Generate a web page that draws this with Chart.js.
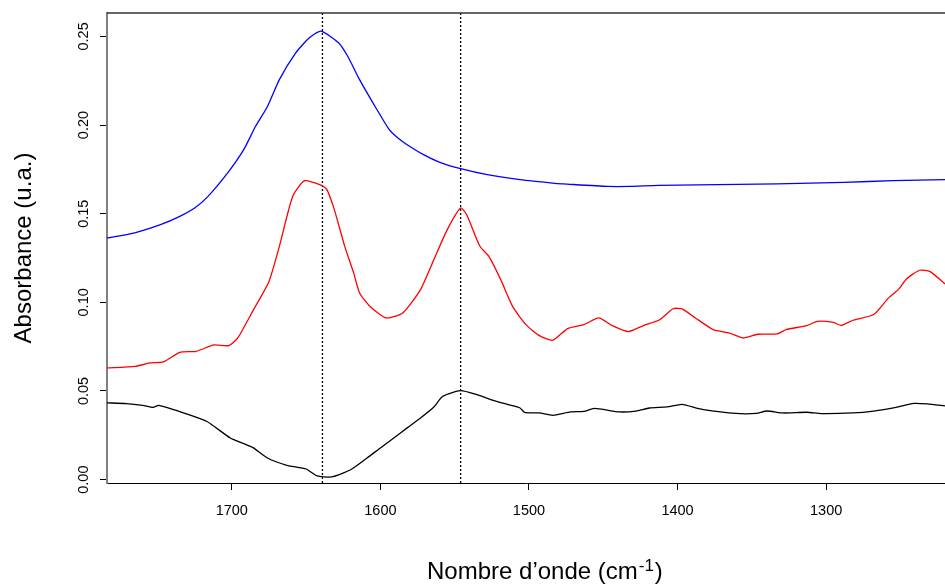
<!DOCTYPE html>
<html>
<head>
<meta charset="utf-8">
<script src="https://cdn.jsdelivr.net/npm/chart.js@4.4.1/dist/chart.umd.min.js"></script>
<style>
  html, body { margin: 0; padding: 0; background: #fff; }
  canvas { display: block; }
</style>
</head>
<body>
<canvas id="myChart" width="945" height="585"></canvas>
<script>
// spectra (wavenumber in cm-1, absorbance)
const blueWn = [1784, 1766, 1748, 1735, 1725, 1716, 1702, 1692, 1684, 1676, 1668, 1657, 1648, 1640, 1628, 1622, 1614, 1605, 1594, 1588, 1582, 1571, 1560, 1546, 1528, 1506, 1481, 1477, 1447, 1432, 1413, 1333, 1288, 1255, 1220];
const blueAbs = [0.1363, 0.1391, 0.1438, 0.1485, 0.1532, 0.1598, 0.1739, 0.1861, 0.1993, 0.2105, 0.2256, 0.2407, 0.2491, 0.2530, 0.2463, 0.2388, 0.2256, 0.2125, 0.1974, 0.1925, 0.1889, 0.1833, 0.1790, 0.1754, 0.1720, 0.1692, 0.1670, 0.1668, 0.1654, 0.1654, 0.1660, 0.1668, 0.1677, 0.1686, 0.1692];

const redWn = [1784, 1765, 1755, 1746, 1735, 1724, 1712, 1702, 1696, 1686, 1675, 1668, 1659, 1651, 1640, 1636, 1631, 1624, 1618, 1614, 1607, 1596, 1585, 1573, 1564, 1555, 1546, 1542, 1533, 1527, 1519, 1511, 1502, 1493, 1484, 1474, 1463, 1453, 1444, 1433, 1423, 1412, 1403, 1397, 1388, 1376, 1365, 1356, 1346, 1333, 1327, 1313, 1306, 1295, 1290, 1282, 1268, 1258, 1251, 1246, 1237, 1230, 1220];
const redAbs = [0.0630, 0.0639, 0.0658, 0.0664, 0.0718, 0.0724, 0.0760, 0.0756, 0.0799, 0.0949, 0.1118, 0.1316, 0.1598, 0.1686, 0.1661, 0.1636, 0.1523, 0.1316, 0.1166, 0.1053, 0.0977, 0.0912, 0.0940, 0.1072, 0.1241, 0.1410, 0.1532, 0.1495, 0.1316, 0.1259, 0.1128, 0.0977, 0.0874, 0.0812, 0.0786, 0.0852, 0.0874, 0.0912, 0.0869, 0.0835, 0.0869, 0.0902, 0.0964, 0.0963, 0.0912, 0.0846, 0.0827, 0.0799, 0.0820, 0.0822, 0.0846, 0.0869, 0.0893, 0.0887, 0.0870, 0.0899, 0.0931, 0.1025, 0.1076, 0.1132, 0.1181, 0.1173, 0.1104];

const blackWn = [1784, 1771, 1760, 1753, 1749, 1730, 1717, 1701, 1692, 1686, 1676, 1663, 1650, 1643, 1633, 1620, 1609, 1600, 1591, 1582, 1573, 1564, 1558, 1546, 1535, 1524, 1514, 1506, 1503, 1493, 1484, 1472, 1463, 1456, 1439, 1428, 1419, 1407, 1397, 1385, 1371, 1358, 1347, 1340, 1329, 1313, 1303, 1282, 1268, 1253, 1241, 1232, 1220];
const blackAbs = [0.0433, 0.0429, 0.0419, 0.0408, 0.0419, 0.0370, 0.0329, 0.0235, 0.0203, 0.0182, 0.0122, 0.0081, 0.0060, 0.0023, 0.0015, 0.0056, 0.0122, 0.0179, 0.0235, 0.0292, 0.0348, 0.0410, 0.0470, 0.0502, 0.0479, 0.0447, 0.0423, 0.0404, 0.0380, 0.0376, 0.0363, 0.0382, 0.0385, 0.0402, 0.0382, 0.0387, 0.0404, 0.0410, 0.0425, 0.0399, 0.0382, 0.0372, 0.0374, 0.0387, 0.0376, 0.0380, 0.0372, 0.0376, 0.0387, 0.0408, 0.0430, 0.0427, 0.0416];

// dotted marker lines
const peakWn = [1639, 1546];

const xTicks = [1700, 1600, 1500, 1400, 1300];
const yTicks = [0, 0.05, 0.10, 0.15, 0.20, 0.25];
const xMin = 1220, xMax = 1784;
const yMin = -0.0019, yMax = 0.2632;

const FONT = "'Liberation Sans', Arial, Helvetica, sans-serif";

const toPoints = (xs, ys) => xs.map((x, i) => ({ x, y: ys[i] }));

const spectrum = (data, color) => ({
  type: 'line',
  data,
  borderColor: color,
  borderWidth: 1.3,
  pointRadius: 0,
  tension: 0.2,
  fill: false,
});

const peakLines = peakWn.map((wn) => ({
  type: 'line',
  data: [{ x: wn, y: yMin }, { x: wn, y: yMax }],
  borderColor: '#000',
  borderWidth: 1.3,
  borderDash: [2, 2],
  pointRadius: 0,
  fill: false,
}));

// top frame line, rotated y labels and axis titles
const framePlugin = {
  id: 'frame',
  afterDraw(chart) {
    const { ctx, chartArea, scales } = chart;
    ctx.save();
    ctx.strokeStyle = '#333';
    ctx.lineWidth = 1.5;
    ctx.beginPath();
    ctx.moveTo(chartArea.left, chartArea.top);
    ctx.lineTo(chartArea.right, chartArea.top);
    ctx.stroke();

    ctx.fillStyle = '#000';
    ctx.font = `14.5px ${FONT}`;
    ctx.textAlign = 'center';
    ctx.textBaseline = 'middle';
    yTicks.forEach((v) => {
      const py = scales.y.getPixelForValue(v);
      ctx.save();
      ctx.translate(84, py);
      ctx.rotate(-Math.PI / 2);
      ctx.fillText(v.toFixed(2), 0, 0);
      ctx.restore();
    });

    ctx.font = `24px ${FONT}`;
    ctx.save();
    ctx.translate(24, (chartArea.top + chartArea.bottom) / 2);
    ctx.rotate(-Math.PI / 2);
    ctx.fillText('Absorbance (u.a.)', 0, 0);
    ctx.restore();

    ctx.textAlign = 'left';
    ctx.textBaseline = 'alphabetic';
    const main = 'Nombre d\u2019onde (cm';
    let x = 427;
    ctx.fillText(main, x, 579);
    x += ctx.measureText(main).width;
    ctx.font = `17px ${FONT}`;
    ctx.fillText('-1', x + 1, 571);
    x += ctx.measureText('-1').width + 2;
    ctx.font = `24px ${FONT}`;
    ctx.fillText(')', x, 579);
    ctx.restore();
  },
};

const chart = new Chart(document.getElementById('myChart'), {
  type: 'line',
  data: {
    datasets: [
      spectrum(toPoints(blueWn, blueAbs), '#0000ff'),
      spectrum(toPoints(redWn, redAbs), '#ff0000'),
      spectrum(toPoints(blackWn, blackAbs), '#000000'),
      ...peakLines,
    ],
  },
  options: {
    responsive: false,
    devicePixelRatio: 1,
    animation: false,
    layout: { padding: { top: 13, right: 0, bottom: 0, left: 0 } },
    plugins: {
      legend: { display: false },
      tooltip: { enabled: false },
    },
    scales: {
      x: {
        type: 'linear',
        reverse: true,
        min: xMin,
        max: xMax,
        afterBuildTicks: (s) => { s.ticks = xTicks.map((v) => ({ value: v })); },
        afterFit: (s) => { s.height = 102; },
        grid: { drawOnChartArea: false, drawTicks: true, tickLength: 7, color: '#000' },
        border: { display: true, color: '#000', width: 1 },
        ticks: {
          color: '#000',
          font: { size: 14.5, family: FONT },
          padding: 12,
          maxRotation: 0,
          autoSkip: false,
          callback: (v) => String(v),
        },
      },
      y: {
        type: 'linear',
        min: yMin,
        max: yMax,
        afterBuildTicks: (s) => { s.ticks = yTicks.map((v) => ({ value: v })); },
        afterFit: (s) => { s.width = 107; },
        grid: { drawOnChartArea: false, drawTicks: true, tickLength: 7, color: '#000' },
        border: { display: true, color: '#808080', width: 2 },
        ticks: { display: false },
      },
    },
  },
  plugins: [framePlugin],
});
</script>
</body>
</html>
